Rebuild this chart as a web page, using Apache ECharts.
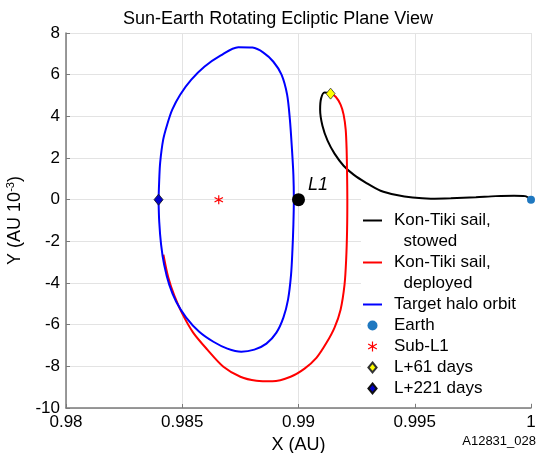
<!DOCTYPE html>
<html><head><meta charset="utf-8">
<script src="https://cdn.jsdelivr.net/npm/echarts@6/dist/echarts.min.js"></script>
<style>html,body{margin:0;padding:0;background:#fff}#c{width:538px;height:453px}</style>
</head><body><div id="c"></div>
<script>
const FONT = '"Liberation Sans", Arial, Helvetica, sans-serif';
const titleText = 'Sun-Earth Rotating Ecliptic Plane View';
const xAxisName = 'X (AU)';
const yAxisName = 'Y (AU 10{sup|-3})';
const figureId = 'A12831_028';
const xMin = 0.98, xMax = 1.0, xStep = 0.005;
const yMin = -10, yMax = 8, yStep = 2;

const nameStowed = 'Kon-Tiki sail, stowed';
const nameDeployed = 'Kon-Tiki sail, deployed';
const nameHalo = 'Target halo orbit';
const nameEarth = 'Earth';
const nameSubL1 = 'Sub-L1';
const nameL61 = 'L+61 days';
const nameL221 = 'L+221 days';

// [X (AU), Y (AU 1e-3)]
const stowedPath = [
  [1.0, 0.0], [0.99974, 0.17], [0.99927, 0.19], [0.99849, 0.17], [0.99763, 0.12],
  [0.99655, 0.07], [0.99569, 0.05], [0.99491, 0.10], [0.99422, 0.22], [0.99353, 0.43],
  [0.99289, 0.82], [0.99237, 1.20], [0.99194, 1.63], [0.99155, 2.21], [0.99125, 2.83],
  [0.99103, 3.55], [0.99093, 4.32], [0.99097, 4.85], [0.99112, 5.14], [0.99138, 5.09]
];
const deployedPath = [
  [0.99138, 5.09], [0.99160, 4.94], [0.99181, 4.56], [0.99194, 4.08], [0.99203, 3.36],
  [0.99207, 2.40], [0.99209, 1.20], [0.99210, 0.0], [0.99209, -1.44], [0.99205, -2.88],
  [0.99198, -4.08], [0.99181, -5.28], [0.99155, -6.14], [0.99121, -6.86], [0.99078, -7.58],
  [0.99026, -8.11], [0.98966, -8.50], [0.98888, -8.72], [0.98819, -8.69], [0.98750, -8.50],
  [0.98677, -8.02], [0.98608, -7.20], [0.98547, -6.38], [0.98500, -5.47], [0.98466, -4.61],
  [0.98440, -3.74], [0.98419, -2.64]
];
const haloPath = [
  [0.98398, 0.0], [0.98401, 0.96], [0.98405, 1.78], [0.98418, 2.88], [0.98435, 3.60],
  [0.98457, 4.32], [0.98491, 5.04], [0.98539, 5.76], [0.98595, 6.38], [0.98664, 6.91],
  [0.98741, 7.32], [0.98802, 7.30], [0.98849, 7.06], [0.98892, 6.62], [0.98927, 6.00],
  [0.98951, 5.04], [0.98963, 3.84], [0.98972, 2.40], [0.98978, 1.20], [0.98980, 0.0],
  [0.98978, -1.20], [0.98974, -2.40], [0.98968, -3.60], [0.98955, -4.80], [0.98935, -5.66],
  [0.98905, -6.38], [0.98862, -6.91], [0.98810, -7.20], [0.98754, -7.30], [0.98694, -7.15],
  [0.98634, -6.82], [0.98573, -6.34], [0.98517, -5.66], [0.98474, -4.90], [0.98444, -4.08],
  [0.98422, -3.12], [0.98409, -2.16], [0.98401, -1.06], [0.98398, 0.0]
];
const earthPoint = [[1.0, 0.0]];
const subL1Point = [[0.98657, 0.0]];
const l1Point = [[0.99, 0.0]];
const l61Point = [[0.99138, 5.09]];
const l221Point = [[0.98398, 0.0]];

const asterisk = 'path://M4.4,0H5.6V10H4.4Z M0.97,1.98L9.63,6.98L9.03,8.02L0.37,3.02Z M0.37,6.98L9.03,1.98L9.63,3.02L0.97,8.02Z';
const lineIcon = 'path://M0,0H19V2H0Z';
const diamondIcon = 'path://M4.5,0L9,5.5L4.5,11L0,5.5Z';

const chart = echarts.init(document.getElementById('c'), null, {renderer: 'canvas'});
const lineSeries = (name, data, color) => ({
  name, type: 'line', data, symbol: 'none', showSymbol: false, smooth: 0.3,
  lineStyle: {color, width: 2}, itemStyle: {color}, z: 3, silent: true
});
const legendText = {fontFamily: FONT, fontSize: 17, color: '#000', lineHeight: 21, padding: [0, 0, 0, 7]};

chart.setOption({
  animation: false,
  backgroundColor: '#fff',
  grid: {left: 66, right: 7, top: 33, bottom: 45, containLabel: false, outerBoundsMode: 'none'},
  xAxis: {
    type: 'value', min: xMin, max: xMax, interval: xStep,
    name: xAxisName, nameLocation: 'middle', nameGap: 23,
    nameTextStyle: {fontFamily: FONT, fontSize: 18, color: '#000'},
    axisLine: {show: true, onZero: false, lineStyle: {color: '#7a7a7a', width: 1.5}},
    axisTick: {show: true, inside: true, length: 4, lineStyle: {color: '#7a7a7a'}},
    axisLabel: {fontFamily: FONT, fontSize: 17, color: '#000', margin: 6, showMinLabel: true, showMaxLabel: true,
      formatter: v => String(+(+v).toFixed(3))},
    splitLine: {show: true, lineStyle: {color: '#e3e3e3', width: 1}}
  },
  yAxis: {
    type: 'value', min: yMin, max: yMax, interval: yStep,
    name: yAxisName, nameLocation: 'middle', nameRotate: 90, nameGap: 37,
    nameTextStyle: {fontFamily: FONT, fontSize: 18, color: '#000',
      rich: {sup: {fontFamily: FONT, fontSize: 11, color: '#000', padding: [0, 0, 9, 0]}}},
    axisLine: {show: true, onZero: false, lineStyle: {color: '#7a7a7a', width: 1.5}},
    axisTick: {show: true, inside: true, length: 4, lineStyle: {color: '#7a7a7a'}},
    axisLabel: {fontFamily: FONT, fontSize: 17, color: '#000', margin: 6, showMinLabel: true, showMaxLabel: true},
    splitLine: {show: true, lineStyle: {color: '#e3e3e3', width: 1}}
  },
  graphic: [
    {type: 'text', x: 278, y: 19, style: {text: titleText, fontFamily: FONT, fontSize: 18, fill: '#000', align: 'center', verticalAlign: 'middle'}},
    {type: 'text', x: 536, y: 441, style: {text: figureId, fontFamily: FONT, fontSize: 13, fill: '#000', align: 'right', verticalAlign: 'middle'}},
    {type: 'rect', z: 1, shape: {x: 361, y: 198, width: 174, height: 205}, style: {fill: '#fff'}}
  ],
  legend: [
    {
      orient: 'vertical', left: 363, top: 189, padding: 0, itemGap: -21, itemWidth: 19, itemHeight: 10,
      selectedMode: false, symbolKeepAspect: true,
      formatter: n => '\n' + n.replace(', ', ',\n  '),
      textStyle: legendText,
      data: [{name: nameStowed, icon: lineIcon}, {name: nameDeployed, icon: lineIcon}]
    },
    {
      orient: 'vertical', left: 363, top: 294, padding: 0, itemGap: 0, itemWidth: 19, itemHeight: 10,
      selectedMode: false, symbolKeepAspect: true,
      textStyle: legendText,
      data: [{name: nameHalo, icon: lineIcon}, nameEarth, nameSubL1,
        {name: nameL61, icon: diamondIcon}, {name: nameL221, icon: diamondIcon}]
    }
  ],
  series: [
    lineSeries(nameStowed, stowedPath, '#000000'),
    lineSeries(nameDeployed, deployedPath, '#ff0000'),
    lineSeries(nameHalo, haloPath, '#0000ff'),
    {name: nameEarth, type: 'scatter', data: earthPoint, symbol: 'circle', symbolSize: 8,
      itemStyle: {color: '#1f78c0', opacity: 1}, z: 5, silent: true},
    {name: nameSubL1, type: 'scatter', data: subL1Point, symbol: asterisk, symbolSize: 9,
      itemStyle: {color: '#ff0000', opacity: 1}, z: 5, silent: true},
    {name: 'L1', type: 'scatter', data: l1Point, symbol: 'circle', symbolSize: 13,
      itemStyle: {color: '#000000', opacity: 1}, z: 5, silent: true,
      label: {show: true, formatter: 'L1', position: 'right', offset: [-2, -15],
        fontFamily: FONT, fontSize: 18, fontStyle: 'italic', color: '#000'}},
    {name: nameL61, type: 'scatter', data: l61Point, symbol: 'diamond', symbolSize: [9, 11],
      itemStyle: {color: '#ffff00', borderColor: '#333', borderWidth: 0.8, opacity: 1}, z: 6, silent: true},
    {name: nameL221, type: 'scatter', data: l221Point, symbol: 'diamond', symbolSize: [9, 11],
      itemStyle: {color: '#0000cc', borderColor: '#111', borderWidth: 0.8, opacity: 1}, z: 6, silent: true}
  ]
});
</script></body></html>
